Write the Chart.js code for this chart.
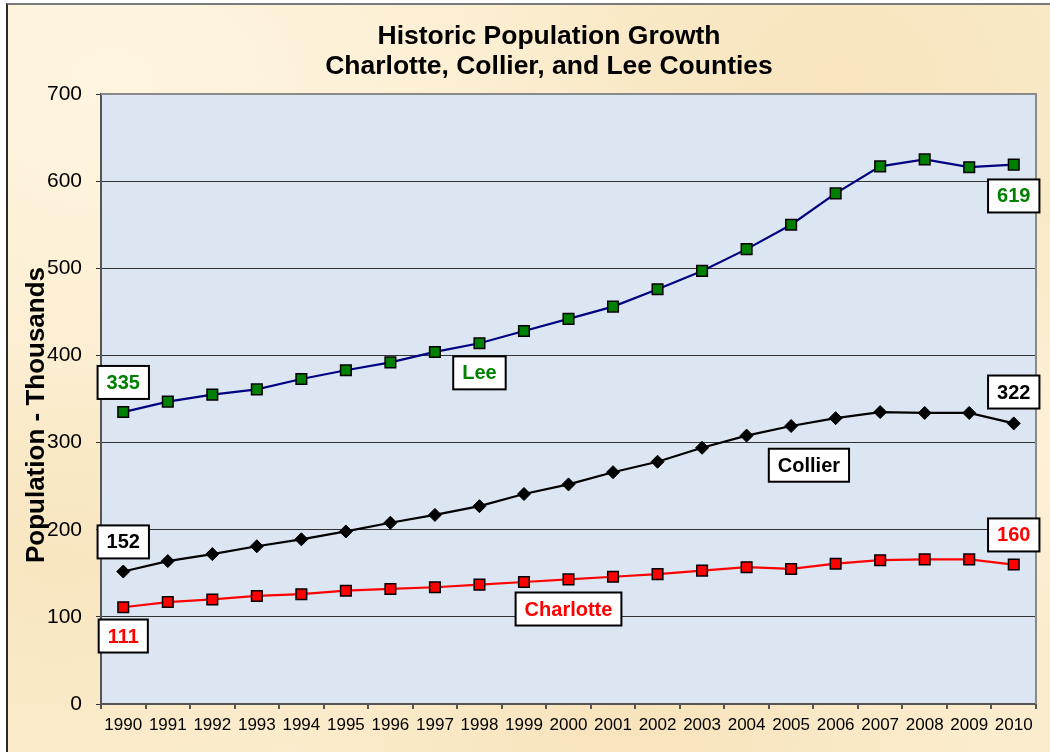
<!DOCTYPE html>
<html>
<head>
<meta charset="utf-8">
<script src="https://cdn.jsdelivr.net/npm/chart.js@4.4.1/dist/chart.umd.min.js"></script>
<style>
  html, body { margin: 0; padding: 0; background: #ffffff; }
  body { width: 1050px; height: 752px; overflow: hidden; position: relative; }
  #paper {
    position: absolute; left: 6px; top: 3px; right: 0; bottom: 0;
    border-left: 2px solid #2a2a2a; border-top: 2px solid #7a7a7a;
    background-color: #fbeccd;
    background-image:
      radial-gradient(ellipse at 10% 10%, rgba(255,246,226,0.9), rgba(255,246,226,0) 40%),
      radial-gradient(ellipse at 80% 10%, rgba(246,224,180,0.6), rgba(246,224,180,0) 35%),
      radial-gradient(ellipse at 60% 95%, rgba(246,224,180,0.7), rgba(246,224,180,0) 40%),
      radial-gradient(ellipse at 5% 75%, rgba(247,226,184,0.6), rgba(247,226,184,0) 30%),
      radial-gradient(ellipse at 97% 60%, rgba(255,243,218,0.7), rgba(255,243,218,0) 30%);
  }
  canvas { position: absolute; left: 0; top: 0; }
</style>
</head>
<body>
<div id="paper"></div>
<canvas id="chart" width="1050" height="752"></canvas>
<script>
// Данные
const years = ["1990", "1991", "1992", "1993", "1994", "1995", "1996", "1997", "1998", "1999", "2000",
  "2001", "2002", "2003", "2004", "2005", "2006", "2007", "2008", "2009", "2010"];
const lee = [335, 347, 355, 361, 373, 383, 392, 404, 414, 428, 442, 456, 476, 497, 522, 550, 586, 617, 625, 616, 619];
const collier = [152, 164, 172, 181, 189, 198, 208, 217, 227, 241, 252, 266, 278, 294, 308, 319, 328, 335, 334, 334, 322];
const charlotte = [111, 117, 120, 124, 126, 130, 132, 134, 137, 140, 143, 146, 149, 153, 157, 155, 161, 165, 166, 166, 160];
const yTicks = [0, 100, 200, 300, 400, 500, 600, 700];
const titleLines = ["Historic Population Growth", "Charlotte, Collier, and Lee Counties"];
const yTitle = "Population - Thousands";

const FONT = "'Liberation Sans', Arial, sans-serif";

// Фон области графика
const plotBg = {
  id: "plotBg",
  beforeDraw(chart) {
    const { ctx, chartArea: a } = chart;
    ctx.save();
    ctx.fillStyle = "#dce6f2";
    ctx.fillRect(a.left, a.top, a.right - a.left, a.bottom - a.top);
    ctx.restore();
  },
  beforeDatasetsDraw(chart) {
    const { ctx, chartArea: a } = chart;
    ctx.save();
    ctx.strokeStyle = "#8a8a8a";
    ctx.lineWidth = 2;
    ctx.beginPath();
    ctx.moveTo(a.left, a.top);
    ctx.lineTo(a.right, a.top);
    ctx.lineTo(a.right, a.bottom);
    ctx.stroke();
    ctx.restore();
  },
};

// Заголовки
const titles = {
  id: "titles",
  afterDraw(chart) {
    const { ctx } = chart;
    ctx.save();
    ctx.font = "bold 26.5px " + FONT;
    ctx.fillStyle = "#000000";
    ctx.textAlign = "center";
    ctx.textBaseline = "middle";
    ctx.fillText(titleLines[0], 549, 37);
    ctx.fillText(titleLines[1], 549, 67);
    ctx.translate(37, 415);
    ctx.rotate(-Math.PI / 2);
    ctx.font = "bold 26px " + FONT;
    ctx.fillText(yTitle, 0, 0);
    ctx.restore();
  },
};

// Подписи в рамках
const boxLabels = {
  id: "boxLabels",
  afterDatasetsDraw(chart, args, opts) {
    const { ctx, scales } = chart;
    ctx.save();
    ctx.font = "bold 20px " + FONT;
    ctx.textAlign = "center";
    ctx.textBaseline = "middle";
    opts.items.forEach((it) => {
      const x = scales.x.getPixelForValue(it.x);
      const y = scales.y.getPixelForValue(it.y);
      const w = ctx.measureText(it.text).width + 18;
      const h = 33;
      ctx.fillStyle = "#ffffff";
      ctx.fillRect(x - w / 2, y - h / 2, w, h);
      ctx.strokeStyle = "#000000";
      ctx.lineWidth = 2;
      ctx.strokeRect(x - w / 2, y - h / 2, w, h);
      ctx.fillStyle = it.color;
      ctx.fillText(it.text, x, y + 1);
    });
    ctx.restore();
  },
};

new Chart(document.getElementById("chart"), {
  type: "line",
  data: {
    labels: years,
    datasets: [
      {
        label: "Lee",
        data: lee,
        borderColor: "#000080",
        borderWidth: 2.2,
        pointStyle: "rect",
        pointRadius: 7.5,
        pointBackgroundColor: "#008000",
        pointBorderColor: "#000000",
        pointBorderWidth: 1.5,
        tension: 0,
      },
      {
        label: "Collier",
        data: collier,
        borderColor: "#000000",
        borderWidth: 2.2,
        pointStyle: "rectRot",
        pointRadius: 6.5,
        pointBackgroundColor: "#000000",
        pointBorderColor: "#000000",
        pointBorderWidth: 1,
        tension: 0,
      },
      {
        label: "Charlotte",
        data: charlotte,
        borderColor: "#ff0000",
        borderWidth: 2.2,
        pointStyle: "rect",
        pointRadius: 7.5,
        pointBackgroundColor: "#ff0000",
        pointBorderColor: "#000000",
        pointBorderWidth: 1.5,
        tension: 0,
      },
    ],
  },
  options: {
    responsive: false,
    animation: false,
    layout: { padding: { left: 0, right: 14, top: 94, bottom: 0 } },
    plugins: {
      legend: { display: false },
      tooltip: { enabled: false },
      title: { display: false },
      boxLabels: {
        items: [
          { text: "335", color: "#008000", x: 0, y: 369 },
          { text: "152", color: "#000000", x: 0, y: 186 },
          { text: "111", color: "#ff0000", x: 0, y: 78 },
          { text: "619", color: "#008000", x: 20, y: 583 },
          { text: "322", color: "#000000", x: 20, y: 358 },
          { text: "160", color: "#ff0000", x: 20, y: 194 },
          { text: "Lee", color: "#008000", x: 8.0, y: 380 },
          { text: "Collier", color: "#000000", x: 15.4, y: 274 },
          { text: "Charlotte", color: "#ff0000", x: 10.0, y: 109 },
        ],
      },
    },
    scales: {
      x: {
        type: "category",
        offset: true,
        grid: { display: true, drawOnChartArea: false, offset: true, tickLength: 5, color: "#555555", lineWidth: 2 },
        border: { display: true, color: "#555555", width: 2 },
        ticks: { color: "#000000", font: { family: FONT, size: 17 }, padding: 6, maxRotation: 0, autoSkip: false },
        afterFit(scale) { scale.height = 48; },
      },
      y: {
        min: 0,
        max: 700,
        afterBuildTicks(scale) { scale.ticks = yTicks.map((v) => ({ value: v })); },
        grid: { color: "#333333", lineWidth: 1, tickLength: 5 },
        border: { display: true, color: "#555555", width: 2 },
        ticks: { color: "#000000", font: { family: FONT, size: 21 }, padding: 14 },
        afterFit(scale) { scale.width = 101; },
      },
    },
  },
  plugins: [plotBg, titles, boxLabels],
});
</script>
</body>
</html>
